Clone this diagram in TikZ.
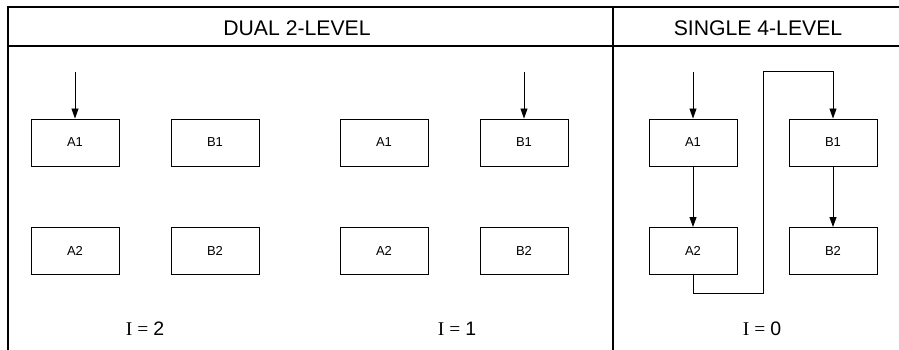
\documentclass[tikz,border=0pt]{standalone}
\usepackage{fontspec}
\setmainfont{Liberation Serif}
\newfontfamily\arialfont{Liberation Sans}
\usetikzlibrary{arrows.meta}
\newcommand{\ival}[1]{I\kern5pt=\kern5pt{\arialfont #1}}
\begin{document}
\begin{tikzpicture}[x=1pt,y=-1pt,
  box/.style={draw, line width=0.9pt, minimum width=88pt, minimum height=47pt, inner sep=0pt, font=\arialfont\fontsize{13}{15}\selectfont},
  frame/.style={line width=1.8pt},
  conn/.style={line width=0.9pt, -{Triangle[length=10pt,width=7pt]}},
  head/.style={anchor=base, inner sep=0pt, font=\arialfont\fontsize{21.2}{25}\selectfont},
  ilab/.style={anchor=base, inner sep=0pt, font=\fontsize{19.5}{22}\selectfont}]
\useasboundingbox (0,0) rectangle (899,350);
% frame
\draw[frame] (8,350) -- (8,7) -- (899,7);
\draw[frame] (8,46) -- (899,46);
\draw[frame] (613,7) -- (613,350);
% headers
\node[head] (h1) at (297,36) {DUAL 2-LEVEL};
\node[head] (h2) at (758,36) {SINGLE 4-LEVEL};
% boxes
\node[box] (a1L) at (75,142.5) {A1};
\node[box] (b1L) at (215,142.5) {B1};
\node[box] (a2L) at (75,251) {A2};
\node[box] (b2L) at (215,251) {B2};
\node[box] (a1M) at (384,142.5) {A1};
\node[box] (b1M) at (524,142.5) {B1};
\node[box] (a2M) at (384,251) {A2};
\node[box] (b2M) at (524,251) {B2};
\node[box] (a1R) at (693,142.5) {A1};
\node[box] (b1R) at (833,142.5) {B1};
\node[box] (a2R) at (693,251) {A2};
\node[box] (b2R) at (833,251) {B2};
% entry points
\coordinate (inL) at (75,72);
\coordinate (inM) at (524,72);
\coordinate (inR) at (693,72);
\coordinate (lb) at (763,293);
\coordinate (lt) at (763,71);
% connectors
\draw[conn] (inL) -- (a1L.north);
\draw[conn] (inM) -- (b1M.north);
\draw[conn] (inR) -- (a1R.north);
\draw[conn] (a1R.south) -- (a2R.north);
\draw[conn] (b1R.south) -- (b2R.north);
\draw[conn] (a2R.south) |- (lb) -- (lt) -| (b1R.north);
% labels
\node[ilab] (i2) at (145,335) {\ival{2}};
\node[ilab] (i1) at (457,335) {\ival{1}};
\node[ilab] (i0) at (762,335) {\ival{0}};
\end{tikzpicture}
\end{document}
